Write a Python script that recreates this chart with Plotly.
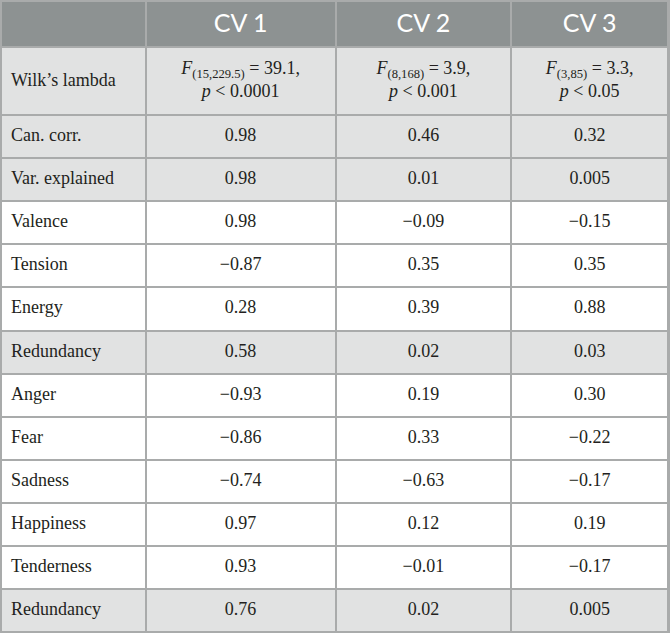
import numpy as np
import plotly.graph_objects as go

# table content
headers = ["", "CV 1", "CV 2", "CV 3"]
row_labels = ["Wilk’s lambda", "Can. corr.", "Var. explained", "Valence", "Tension",
              "Energy", "Redundancy", "Anger", "Fear", "Sadness", "Happiness",
              "Tenderness", "Redundancy"]
wilks = ["<i>F</i><sub>(15,229.5)</sub> = 39.1,<br><i>p</i> < 0.0001",
         "<i>F</i><sub>(8,168)</sub> = 3.9,<br><i>p</i> < 0.001",
         "<i>F</i><sub>(3,85)</sub> = 3.3,<br><i>p</i> < 0.05"]
cv1 = ["0.98", "0.98", "0.98", "−0.87", "0.28", "0.58", "−0.93", "−0.86", "−0.74", "0.97", "0.93", "0.76"]
cv2 = ["0.46", "0.01", "−0.09", "0.35", "0.39", "0.02", "0.19", "0.33", "−0.63", "0.12", "−0.01", "0.02"]
cv3 = ["0.32", "0.005", "−0.15", "0.35", "0.88", "0.03", "0.30", "−0.22", "−0.17", "0.19", "−0.17", "0.005"]
shaded = ["Wilk’s lambda", "Can. corr.", "Var. explained", "Redundancy"]

# geometry (roughly pixels)
col_w = [144, 189, 175, 156]
row_h = [46, 68] + [43] * 12
x_edges = np.concatenate([[0], np.cumsum(col_w)])
y_edges = np.concatenate([[0], np.cumsum(row_h)])
x_mid = (x_edges[:-1] + x_edges[1:]) / 2
y_mid = (y_edges[:-1] + y_edges[1:]) / 2

LINE = "#a9abab"
GREY = "#e1e2e2"
HEAD = "#8d9292"
TXT = "#231f20"
SERIF = "Liberation Serif, DejaVu Serif, serif"

# 0 white, 1 shaded, 2 header
z = [[2] * 4] + [[1 if lab in shaded else 0] * 4 for lab in row_labels]

fig = go.Figure()
fig.add_trace(go.Heatmap(
    x=x_edges, y=y_edges, z=z, zmin=0, zmax=2,
    colorscale=[[0, "white"], [0.33, "white"], [0.33, GREY], [0.67, GREY],
                [0.67, HEAD], [1, HEAD]],
    xgap=2, ygap=2, showscale=False, hoverinfo="skip",
))

# header text
fig.add_trace(go.Scatter(
    x=x_mid[1:], y=[y_mid[0] + 2] * 3, text=headers[1:], mode="text",
    textposition="middle center",
    textfont=dict(family="Lato, Open Sans, sans-serif", size=25, color="white"),
    hoverinfo="skip",
))

# row labels
fig.add_trace(go.Scatter(
    x=[x_edges[0] + 10] * len(row_labels), y=y_mid[1:], text=row_labels, mode="text",
    textposition="middle right",
    textfont=dict(family=SERIF, size=18, color=TXT),
    hoverinfo="skip",
))

# values
cols = [[wilks[0]] + cv1, [wilks[1]] + cv2, [wilks[2]] + cv3]
vx, vy, vt = [], [], []
for j, col in enumerate(cols):
    for i, val in enumerate(col):
        vx.append(x_mid[j + 1])
        vy.append(y_mid[i + 1])
        vt.append(val)
fig.add_trace(go.Scatter(
    x=vx, y=vy, text=vt, mode="text", textposition="middle center",
    textfont=dict(family=SERIF, size=18, color=TXT),
    hoverinfo="skip",
))

fig.update_xaxes(range=[-1, x_edges[-1] + 2], visible=False, fixedrange=True)
fig.update_yaxes(range=[y_edges[-1] + 1, -1], visible=False, fixedrange=True)
fig.update_layout(width=670, height=635, margin=dict(l=0, r=0, t=0, b=2),
                  plot_bgcolor=LINE, paper_bgcolor="white", showlegend=False)
fig.write_html("out.html", config={"displayModeBar": False},
               post_script="document.body.style.margin='0';"
                           "Plotly.relayout('{plot_id}', {width: 670, height: 635});")
